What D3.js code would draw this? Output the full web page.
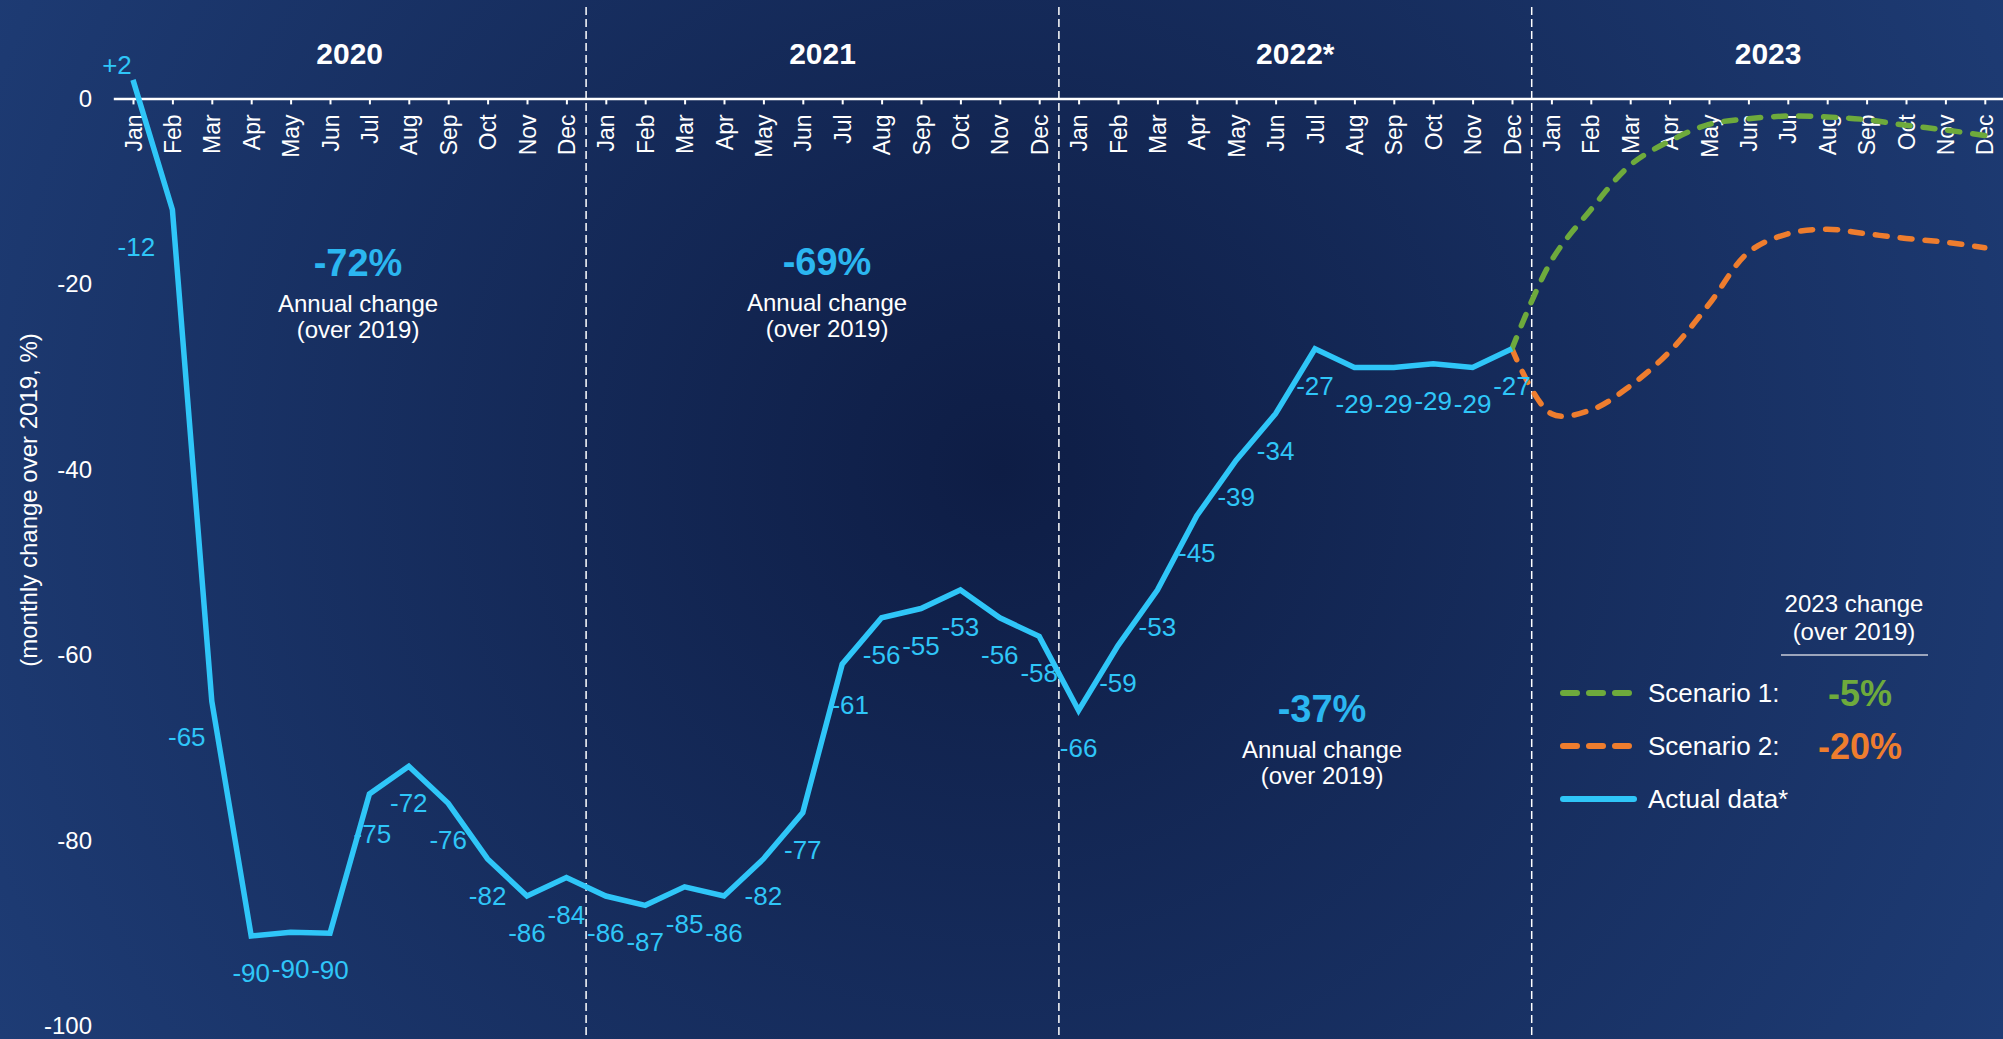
<!DOCTYPE html>
<html>
<head>
<meta charset="utf-8" />
<title>Monthly change over 2019</title>
<script src="https://cdnjs.cloudflare.com/ajax/libs/d3/7.8.5/d3.min.js"></script>
<style>
  body { margin: 0; background: #15295a; }
  svg { display: block; font-family: Arial, "Liberation Sans", sans-serif; }
</style>
</head>
<body>
<div id="container"></div>

<script type="text/javascript">
  // data
  var months = ["Jan", "Feb", "Mar", "Apr", "May", "Jun", "Jul", "Aug", "Sep", "Oct", "Nov", "Dec"];
  var years = ["2020", "2021", "2022*", "2023"];
  var yTicks = [0, -20, -40, -60, -80, -100];

  // actual data, Jan 2020 .. Dec 2022
  var actual = [2, -12, -65, -90.3, -89.9, -90, -75, -72, -76, -82, -86, -84,
                -86, -87, -85, -86, -82, -77, -61, -56, -55, -53, -56, -58,
                -66, -59, -53, -45, -39, -34, -27, -29, -29, -28.6, -29, -27];

  // scenarios, Dec 2022 .. Dec 2023
  var scenario1 = [-27, -17.5, -12, -7.2, -4.6, -2.8, -2.2, -1.9, -2.0, -2.3, -2.9, -3.4, -4.0];
  var scenario2 = [-27, -34, -33.6, -31, -27.3, -22.2, -16.6, -14.6, -14.1, -14.6, -15.1, -15.5, -16.1];

  var annualChange = ["-72%", "-69%", "-37%"];
  var legendNames = ["Scenario 1:", "Scenario 2:", "Actual data*"];
  var scenarioChange = ["-5%", "-20%"];

  var width = 2003, height = 1039;
  var cyan = "#2fc6f8", green = "#6eaa3c", orange = "#ee7d2e", labelBlue = "#2bb6f0";

  var svg = d3.select("#container").append("svg").attr("width", width).attr("height", height);

  var grad = svg.append("defs").append("radialGradient")
    .attr("id", "bg").attr("gradientUnits", "userSpaceOnUse")
    .attr("cx", 1000).attr("cy", 470).attr("r", 1150);
  grad.append("stop").attr("offset", "0%").attr("stop-color", "#0e1d45");
  grad.append("stop").attr("offset", "100%").attr("stop-color", "#1e3c75");
  svg.append("rect").attr("width", width).attr("height", height).attr("fill", "url(#bg)");

  var x = d3.scaleLinear().domain([-0.5, 47.5]).range([113.3, 2004.5]);
  var y = d3.scaleLinear().domain([-100, 0]).range([1025.9, 98.4]);

  // year separators
  svg.selectAll(".sep").data([1, 2, 3]).enter().append("line")
    .attr("x1", function(d) { return x(d * 12 - 0.5); })
    .attr("x2", function(d) { return x(d * 12 - 0.5); })
    .attr("y1", 7).attr("y2", height)
    .attr("stroke", "#fff").attr("stroke-width", 1.5).attr("stroke-dasharray", "8 4");

  svg.selectAll(".year").data(years).enter().append("text")
    .attr("x", function(d, i) { return x(i * 12 + 5.5); })
    .attr("y", 64)
    .attr("text-anchor", "middle").attr("fill", "#fff")
    .attr("font-size", 30).attr("font-weight", "bold")
    .text(function(d) { return d; });

  // y axis (plain hyphen, not the unicode minus)
  var gy = svg.append("g").attr("transform", "translate(92,0)")
    .call(d3.axisLeft(y).tickValues(yTicks).tickSize(0).tickPadding(0)
      .tickFormat(function(d) { return String(d); }));
  gy.attr("font-family", null);
  gy.select(".domain").remove();
  gy.selectAll("text").attr("fill", "#fff").attr("font-size", 24);

  svg.append("text")
    .attr("transform", "translate(29,500) rotate(-90)")
    .attr("text-anchor", "middle").attr("dy", "0.35em")
    .attr("fill", "#fff").attr("font-size", 24)
    .text("(monthly change over 2019, %)");

  // month axis along zero
  var xAxis = d3.axisBottom(x).tickValues(d3.range(48)).tickSize(6).tickSizeOuter(0)
    .tickFormat(function(i) { return months[i % 12]; });
  var gx = svg.append("g").attr("transform", "translate(0," + y(0) + ")").call(xAxis);
  gx.attr("font-family", null);
  gx.select(".domain").attr("stroke", "#fff").attr("stroke-width", 2.5);
  gx.selectAll(".tick line").attr("stroke", "#fff").attr("stroke-width", 2);
  gx.selectAll(".tick text")
    .attr("fill", "#fff").attr("font-size", 23)
    .attr("text-anchor", "end").attr("transform", "rotate(-90)")
    .attr("x", -16).attr("y", 0).attr("dy", "0.35em");

  // scenario lines
  var smooth = d3.line()
    .x(function(d, i) { return x(35 + i); })
    .y(function(d) { return y(d); })
    .curve(d3.curveCatmullRom.alpha(0.5));

  svg.append("path").datum(scenario2).attr("d", smooth)
    .attr("fill", "none").attr("stroke", orange).attr("stroke-width", 5.5)
    .attr("stroke-linecap", "round").attr("stroke-dasharray", "12 13");
  svg.append("path").datum(scenario1).attr("d", smooth)
    .attr("fill", "none").attr("stroke", green).attr("stroke-width", 5.5)
    .attr("stroke-linecap", "round").attr("stroke-dasharray", "12 13");

  // actual data
  var line = d3.line()
    .x(function(d, i) { return x(i); })
    .y(function(d) { return y(d); });
  svg.append("path").datum(actual).attr("d", line)
    .attr("fill", "none").attr("stroke", cyan).attr("stroke-width", 5.5)
    .attr("stroke-linejoin", "miter");

  // label offsets, most sit under the point
  var labelOffset = { 0: [-16, -15], 1: [-36, 37], 2: [-25, 36], 6: [3, 40], 18: [8, 41] };
  svg.selectAll(".lbl").data(actual).enter().append("text")
    .attr("x", function(d, i) { return x(i) + (labelOffset[i] ? labelOffset[i][0] : 0); })
    .attr("y", function(d, i) { return y(d) + (labelOffset[i] ? labelOffset[i][1] : 37); })
    .attr("dy", "0.35em").attr("text-anchor", "middle")
    .attr("fill", cyan).attr("font-size", 26)
    .text(function(d) { return (d > 0 ? "+" : "") + Math.round(d); });

  // annual change notes
  var notePos = [[358, 276], [827, 275], [1322, 722]];
  annualChange.forEach(function(t, i) {
    var g = svg.append("g").attr("transform", "translate(" + notePos[i][0] + "," + notePos[i][1] + ")")
      .attr("text-anchor", "middle");
    g.append("text").attr("fill", labelBlue).attr("font-size", 38).attr("font-weight", "bold").text(t);
    g.append("text").attr("y", 36).attr("fill", "#fff").attr("font-size", 24).text("Annual change");
    g.append("text").attr("y", 62).attr("fill", "#fff").attr("font-size", 24).text("(over 2019)");
  });

  // legend
  var lg = svg.append("g");
  lg.append("text").attr("x", 1854).attr("y", 612).attr("text-anchor", "middle")
    .attr("fill", "#fff").attr("font-size", 24).text("2023 change");
  lg.append("text").attr("x", 1854).attr("y", 640).attr("text-anchor", "middle")
    .attr("fill", "#fff").attr("font-size", 24).text("(over 2019)");
  lg.append("line").attr("x1", 1781).attr("x2", 1928).attr("y1", 655).attr("y2", 655)
    .attr("stroke", "#c8ccd8").attr("stroke-width", 1.5);

  var legendColors = [green, orange, cyan];
  legendNames.forEach(function(name, i) {
    var ly = 693 + i * 53;
    lg.append("line").attr("x1", 1563).attr("x2", 1634).attr("y1", ly).attr("y2", ly)
      .attr("stroke", legendColors[i]).attr("stroke-width", 6).attr("stroke-linecap", "round")
      .attr("stroke-dasharray", i < 2 ? "14 12" : null);
    lg.append("text").attr("x", 1648).attr("y", ly).attr("dy", "0.35em")
      .attr("fill", "#fff").attr("font-size", 26).text(name);
    if (i < 2) {
      lg.append("text").attr("x", 1860).attr("y", ly).attr("dy", "0.36em")
        .attr("text-anchor", "middle").attr("fill", legendColors[i])
        .attr("font-size", 36).attr("font-weight", "bold").text(scenarioChange[i]);
    }
  });
</script>
</body>
</html>
